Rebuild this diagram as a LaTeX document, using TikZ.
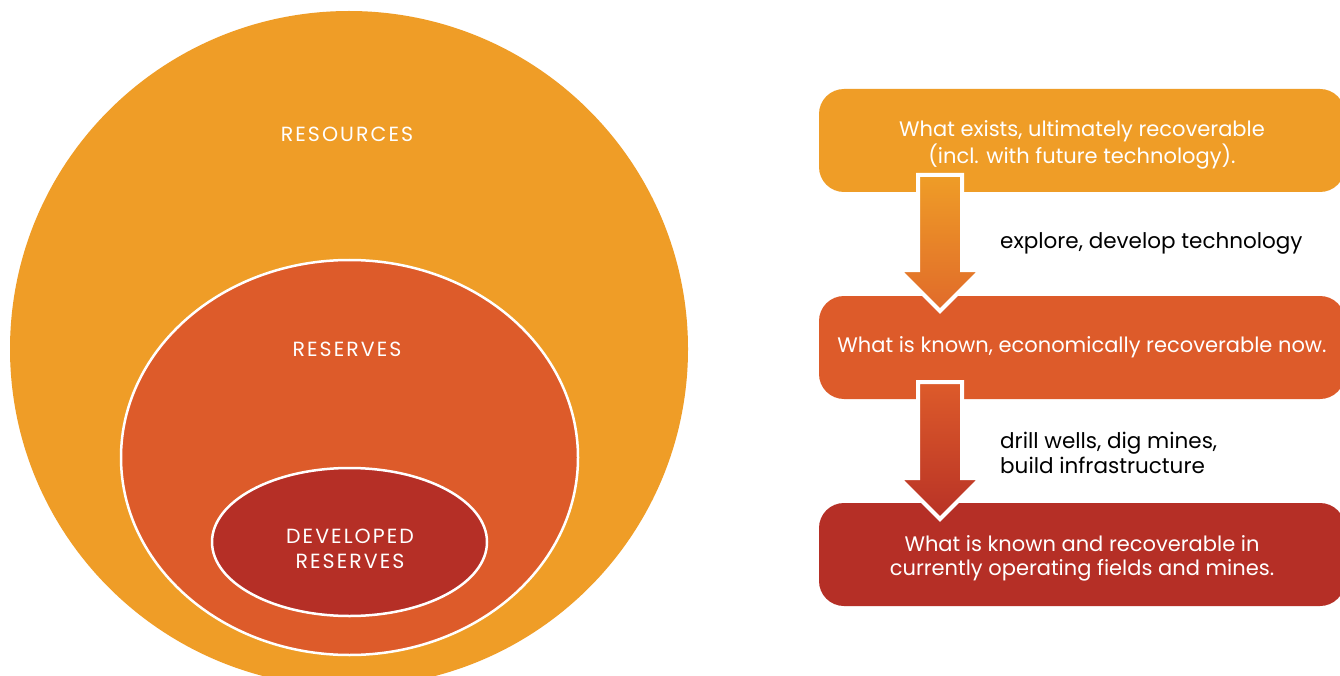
\documentclass[tikz,border=0pt]{standalone}
\usepackage{fontspec}
\setmainfont{Poppins}
\usetikzlibrary{shapes.geometric}
\definecolor{cOrange}{HTML}{EF9D27}
\definecolor{cMid}{HTML}{DD5B2A}
\definecolor{cRed}{HTML}{B52F26}
\definecolor{cMidArrow}{HTML}{E06A2A}
\definecolor{cRedArrow}{HTML}{B83226}
\newcommand{\twolines}[2]{\raisebox{-4.5pt}[\height][\depth]{\renewcommand{\arraystretch}{0.93}\begin{tabular}{@{}c@{}}#1\\#2\end{tabular}}}
\begin{document}
\begin{tikzpicture}[x=1pt,y=-1pt,
  blob/.style={ellipse, inner sep=0pt, draw=white, line width=2.5pt},
  lbl/.style={text=white, font=\fontsize{20.5}{25}\selectfont\addfontfeatures{LetterSpace=10}, align=center, inner sep=0pt},
  box/.style={rectangle, rounded corners=25pt, minimum width=526pt, minimum height=103pt, inner sep=0pt, text=white, font=\fontsize{21}{26}\selectfont, align=center},
  note/.style={text=black, font=\fontsize{21.5}{25}\selectfont, align=left, anchor=west, inner sep=0pt},
  bigarrow/.style={draw=white, line width=4pt, line join=miter}
]
\clip (0,0) rectangle (1340,676);
\fill[white] (0,0) rectangle (1340,676);
% circles
\node[ellipse, inner sep=0pt, fill=cOrange, minimum width=678pt, minimum height=676pt] (res) at (349,349) {};
\node[blob, fill=cMid, minimum width=457pt, minimum height=395pt] (rsv) at (349.5,457.5) {};
\node[blob, fill=cRed, minimum width=275pt, minimum height=148pt] (dev) at (349.5,542) {};
\node[lbl] (tres) at (347,134) {RESOURCES};
\node[lbl] (trsv) at (347,349) {RESERVES};
\node[lbl] (tdev) at (350,549) {DEVELOPED\\RESERVES};
% boxes
\node[box, fill=cOrange] (b1) at (1082,140.5) {\twolines{What exists, ultimately recoverable}{(incl. with future technology).}};
\node[box, fill=cMid] (b2) at (1082,347.5) {What is known, economically recoverable now.};
\node[box, fill=cRed] (b3) at (1082,554.5) {\twolines{What is known and recoverable in}{currently operating fields and mines.}};
% arrows
\path[bigarrow, top color=cOrange, bottom color=cMidArrow]
  (918,175) -- (962,175) -- (962,270) -- (981,270) -- (940,311) -- (899,270) -- (918,270) -- cycle;
\path[bigarrow, top color=cMid, bottom color=cRedArrow]
  (918,382) -- (962,382) -- (962,478) -- (981,478) -- (940,519) -- (899,478) -- (918,478) -- cycle;
\node[note] (n1) at (1000,243) {explore, develop technology};
\node[note] (n2) at (1000,453) {drill wells, dig mines,\\build infrastructure};
\end{tikzpicture}
\end{document}
